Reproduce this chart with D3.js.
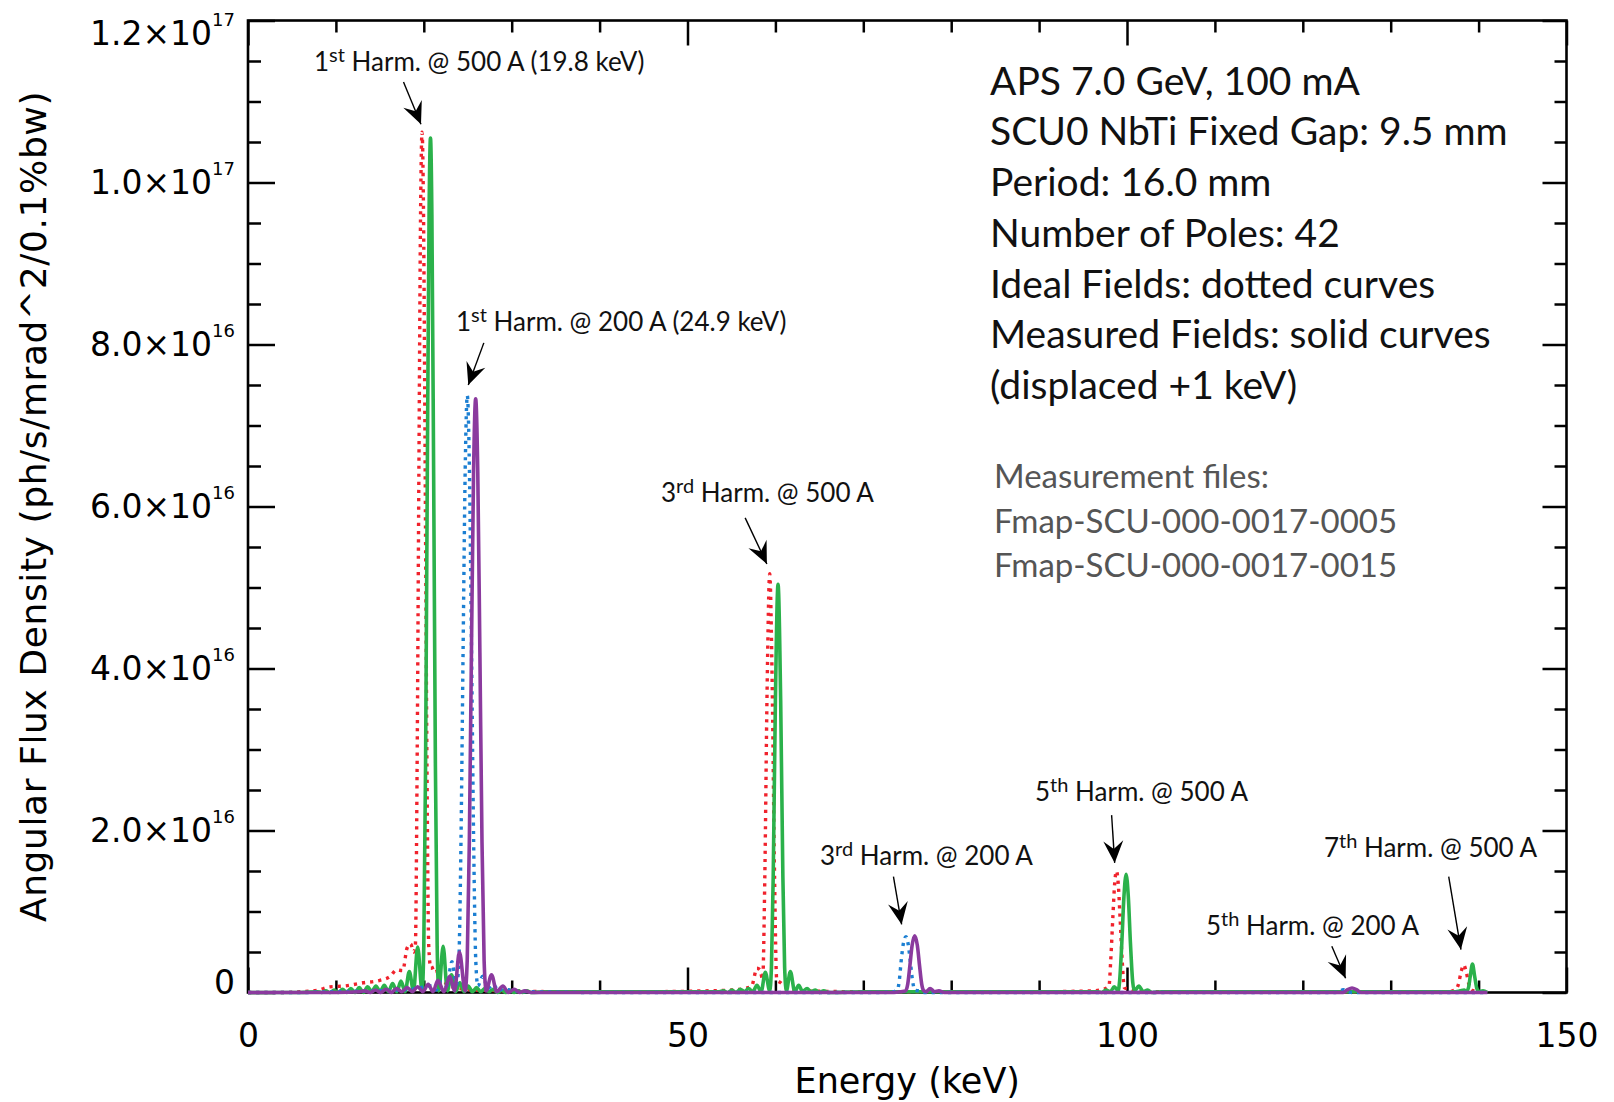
<!DOCTYPE html>
<html>
<head>
<meta charset="utf-8">
<style>
  body { margin: 0; background: #fff; }
  svg { display: block; }
</style>
</head>
<body>
<div id="chart"></div>
<script src="https://d3js.org/d3.v7.min.js"></script>
<script>
// energy in keV, flux density in units of 1e16 ph/s/mrad^2/0.1%bw

// ideal field, 500 A (red dotted)
var ideal500 = [
  [0,0],[4,0],[6,0.01],[8,0.03],[9.3,0.07],[11,0.08],[13.1,0.12],[15,0.15],[16.2,0.2],[16.9,0.28],[17.6,0.27],
  [18.1,0.55],[18.5,0.6],[18.85,0.5],[19.04,0.58],[19.24,2.8],[19.44,6.4],[19.64,9.7],[19.8,10.62],[19.96,9.7],
  [20.16,6.4],[20.36,2.8],[20.56,0.58],[20.8,0.3],[21.3,0.32],[21.8,0.15],[22.4,0.12],[23,0.08],[24,0.05],[26,0.03],
  [30,0.02],[35,0.01],[45,0.01],[52,0.02],[55,0.03],[56.5,0.05],[57.3,0.08],[57.9,0.3],[58.25,0.28],[58.55,0.16],
  [58.8,1.46],[59.05,3.69],[59.35,5.17],[59.65,3.69],[59.9,1.46],[60.15,0.16],[60.6,0.12],[61.3,0.06],[63,0.02],
  [70,0.01],[90,0.01],[96,0.02],[97.3,0.04],[97.95,0.08],[98.15,0.4],[98.4,0.95],[98.6,1.35],[98.8,1.5],[99.0,1.35],
  [99.2,0.95],[99.45,0.4],[99.7,0.06],[100.2,0.04],[101,0.01],[130,0.01],[136.5,0.01],[137.3,0.03],[137.7,0.1],
  [138.0,0.25],[138.3,0.34],[138.6,0.25],[138.9,0.1],[139.2,0.03],[140,0.01],[141,0]
];

// measured field, 500 A, displaced +1 keV (green solid)
var meas500 = [
  [0,0],[6,0],[7.9,0.01],[8.38,0],[8.85,0.02],[9.33,0],[9.8,0.03],[10.28,0],[10.75,0.04],[11.23,0],[11.7,0.05],
  [12.18,0],[12.65,0.06],[13.13,0],[13.6,0.07],[14.08,0.01],[14.55,0.08],[15.03,0.01],[15.5,0.09],[15.98,0.01],
  [16.45,0.11],[16.93,0.01],[17.4,0.14],[17.88,0.01],[18.35,0.26],[18.83,0.02],[19.3,0.56],[19.81,0.02],
  [20.0,0.58],[20.2,2.8],[20.4,6.4],[20.6,9.6],[20.76,10.55],[20.92,9.6],[21.12,6.4],[21.32,2.8],[21.52,0.58],
  [21.71,0.02],[22.2,0.57],[22.68,0.02],[23.15,0.22],[23.63,0.01],[24.1,0.12],[24.58,0.01],[25.05,0.08],[25.53,0.01],
  [26.0,0.06],[26.48,0.01],[26.95,0.05],[27.43,0.01],[27.9,0.04],[28.38,0],[28.85,0.03],[29.33,0],[29.8,0.03],
  [30.28,0],[30.75,0.02],[31.23,0],[31.7,0.02],[32.2,0],[34,0.01],[40,0.01],[48,0.01],[53.6,0.01],[54.1,0.02],
  [54.58,0],[55.05,0.03],[55.53,0],[56.0,0.04],[56.48,0.01],[56.95,0.05],[57.43,0.01],[57.9,0.09],[58.38,0.01],
  [58.85,0.25],[59.35,0.02],[59.55,0.31],[59.75,1.43],[60.0,3.6],[60.3,5.04],[60.6,3.6],[60.85,1.43],[61.05,0.31],
  [61.25,0.02],[61.7,0.26],[62.2,0.01],[62.65,0.09],[63.1,0.01],[63.6,0.05],[64.05,0.01],[64.55,0.03],[65.0,0],
  [65.5,0.02],[66,0],[70,0.01],[90,0.01],[96.6,0.01],[97.1,0],[97.6,0.03],[98.1,0.01],[98.55,0.07],[99.0,0.02],
  [99.15,0.13],[99.4,0.59],[99.65,1.18],[99.9,1.46],[100.15,1.18],[100.4,0.59],[100.65,0.13],[100.85,0.02],
  [101.35,0.08],[101.85,0.01],[102.35,0.03],[102.85,0],[104,0.01],[136,0.01],[137.4,0.01],[137.9,0.02],
  [138.35,0.03],[138.6,0.01],[138.85,0.06],[139.05,0.2],[139.3,0.35],[139.55,0.2],[139.8,0.05],[140.05,0.01],
  [140.5,0.02],[141,0]
];

// ideal field, 200 A (blue dotted)
var ideal200 = [
  [0,0],[6,0],[10,0.01],[14,0.02],[17,0.03],[18.5,0.04],[19.6,0.06],[20.8,0.08],[21.4,0.03],[22.0,0.13],[22.6,0.08],
  [23.2,0.38],[23.6,0.15],[23.75,0.1],[23.99,0.4],[24.23,1.87],[24.47,4.22],[24.71,6.46],[24.95,7.37],[25.19,6.46],
  [25.43,4.22],[25.67,1.87],[25.91,0.4],[26.15,0.08],[26.7,0.2],[27.3,0.05],[27.9,0.1],[28.5,0.02],[29.1,0.05],
  [30,0.02],[32,0.01],[40,0],[72,0],[73.4,0.01],[73.9,0.04],[74.1,0.15],[74.3,0.38],[74.55,0.6],[74.85,0.69],
  [75.1,0.6],[75.35,0.38],[75.6,0.15],[75.85,0.03],[76.4,0.02],[77,0],[123.5,0],[124.1,0.01],[124.6,0.035],
  [125.1,0.01],[125.6,0],[141,0]
];

// measured field, 200 A, displaced +1 keV (purple solid)
var meas200 = [
  [0,0],[10,0],[12.7,0.01],[13.3,0.02],[13.9,0],[14.5,0.03],[15.1,0],[15.7,0.04],[16.3,0],[16.9,0.05],[17.5,0.01],
  [18.1,0.06],[18.7,0.01],[19.3,0.07],[19.9,0.01],[20.5,0.1],[21.05,0.01],[21.6,0.15],[22.3,0.01],[22.95,0.2],
  [23.5,0.02],[24.05,0.5],[24.7,0.02],[24.94,0.4],[25.18,1.86],[25.42,4.2],[25.66,6.42],[25.9,7.33],[26.14,6.42],
  [26.38,4.2],[26.62,1.86],[26.86,0.4],[27.1,0.02],[27.7,0.22],[28.3,0.01],[29.0,0.08],[29.6,0],[30.3,0.04],
  [30.9,0],[31.5,0.02],[32.2,0],[73.5,0],[74.3,0.01],[74.8,0.02],[75.05,0.1],[75.3,0.33],[75.55,0.58],[75.85,0.7],
  [76.15,0.58],[76.4,0.33],[76.65,0.1],[76.9,0.02],[77.15,0.01],[77.6,0.05],[78.1,0.01],[78.6,0.02],[79.2,0],
  [124.6,0],[125.1,0.035],[125.6,0.055],[126.1,0.035],[126.6,0],[141,0]
];

var xTicks = [0, 50, 100, 150];
var yTicks = [0, 2, 4, 6, 8, 10, 12];
var yMant = ["0", "2.0×10", "4.0×10", "6.0×10", "8.0×10", "1.0×10", "1.2×10"];
var yExp = ["", "16", "16", "16", "16", "17", "17"];

var infoLines = ["APS 7.0 GeV, 100 mA", "SCU0 NbTi Fixed Gap: 9.5 mm", "Period: 16.0 mm", "Number of Poles: 42",
  "Ideal Fields: dotted curves", "Measured Fields: solid curves", "(displaced +1 keV)"];
var fileLines = ["Measurement files:", "Fmap-SCU-000-0017-0005", "Fmap-SCU-000-0017-0015"];

// harmonic labels, placed in data coordinates (text baseline, arrow start, arrow tip)
var notes = [
  {n: "1", sup: "st", rest: " Harm. @ 500 A (19.8 keV)", at: [7.51, 11.38], from: [17.69, 11.24], to: [19.68, 10.72]},
  {n: "1", sup: "st", rest: " Harm. @ 200 A (24.9 keV)", at: [23.66, 8.17], from: [26.83, 8.02], to: [25.06, 7.5]},
  {n: "3", sup: "rd", rest: " Harm. @ 500 A", at: [46.98, 6.05], from: [56.56, 5.86], to: [59.03, 5.29]},
  {n: "5", sup: "th", rest: " Harm. @ 500 A", at: [89.53, 2.36], from: [98.25, 2.19], to: [98.6, 1.6]},
  {n: "3", sup: "rd", rest: " Harm. @ 200 A", at: [65.07, 1.58], from: [73.43, 1.43], to: [74.36, 0.84]},
  {n: "7", sup: "th", rest: " Harm. @ 500 A", at: [122.4, 1.67], from: [136.6, 1.43], to: [137.99, 0.53]},
  {n: "5", sup: "th", rest: " Harm. @ 200 A", at: [108.98, 0.71], from: [123.3, 0.57], to: [124.87, 0.175]}
];

var W = 1614, H = 1102;
var margin = {top: 20.5, right: 47.5, bottom: 109.5, left: 248};
var width = W - margin.left - margin.right,
    height = H - margin.top - margin.bottom;

var svg = d3.select("#chart").append("svg")
  .attr("width", W)
  .attr("height", H);

var defs = svg.append("defs");
defs.append("clipPath").attr("id", "plotclip")
  .append("rect").attr("x", 0).attr("y", -5).attr("width", width).attr("height", height + 8);
defs.append("marker")
  .attr("id", "arrowhead")
  .attr("viewBox", "-24 -12 26 24")
  .attr("refX", 0).attr("refY", 0)
  .attr("markerWidth", 26).attr("markerHeight", 24)
  .attr("markerUnits", "userSpaceOnUse")
  .attr("orient", "auto")
  .append("path")
  .attr("d", "M0,0 L-22,-10 L-14,0 L-22,10 Z")
  .attr("fill", "#000");

var g = svg.append("g")
  .attr("transform", "translate(" + margin.left + "," + margin.top + ")");

var x = d3.scaleLinear().domain([0, 150]).range([0, width]);
var y = d3.scaleLinear().domain([0, 12]).range([height, 0]);

var minorX = d3.range(0, 151, 10).filter(function(d) { return d % 50 !== 0; });
var minorY = d3.range(0, 12.01, 0.5).filter(function(d) { return d % 2 !== 0; });

function cleanAxis(sel) {
  sel.select(".domain").remove();
  sel.selectAll(".tick line").attr("stroke", "#000").attr("stroke-width", 2.5);
}

// bottom
g.append("g").attr("transform", "translate(0," + height + ")")
  .call(d3.axisBottom(x).tickValues(xTicks).tickSize(-25).tickPadding(31).tickFormat(d3.format("d")))
  .call(cleanAxis)
  .attr("font-family", "DejaVu Sans, sans-serif").attr("font-size", 33)
  .selectAll("text").attr("fill", "#000");
g.append("g").attr("transform", "translate(0," + height + ")")
  .call(d3.axisBottom(x).tickValues(minorX).tickSize(-12).tickFormat(""))
  .call(cleanAxis);
// top
g.append("g")
  .call(d3.axisTop(x).tickValues(xTicks).tickSize(-25).tickFormat(""))
  .call(cleanAxis);
g.append("g")
  .call(d3.axisTop(x).tickValues(minorX).tickSize(-12).tickFormat(""))
  .call(cleanAxis);
// left
g.append("g")
  .call(d3.axisLeft(y).tickValues(yTicks).tickSize(-27).tickFormat(""))
  .call(cleanAxis);
g.append("g")
  .call(d3.axisLeft(y).tickValues(minorY).tickSize(-13).tickFormat(""))
  .call(cleanAxis);
// right
g.append("g").attr("transform", "translate(" + width + ",0)")
  .call(d3.axisRight(y).tickValues(yTicks).tickSize(-24).tickFormat(""))
  .call(cleanAxis);
g.append("g").attr("transform", "translate(" + width + ",0)")
  .call(d3.axisRight(y).tickValues(minorY).tickSize(-12).tickFormat(""))
  .call(cleanAxis);

g.append("rect")
  .attr("width", width).attr("height", height)
  .attr("fill", "none").attr("stroke", "#000").attr("stroke-width", 2.6);

// y tick labels with powers of ten
var yLab = g.append("g")
  .attr("font-family", "DejaVu Sans, sans-serif")
  .attr("font-size", 33)
  .attr("text-anchor", "end");
yTicks.forEach(function(v, i) {
  var ty = Math.min(Math.max(y(v), 13), height - 10);
  var t = yLab.append("text").attr("x", -13).attr("y", ty).attr("dy", "0.35em");
  t.append("tspan").text(yMant[i]);
  if (yExp[i]) t.append("tspan").attr("font-size", 18).attr("dy", -19).text(yExp[i]);
});

// axis titles
g.append("text")
  .attr("x", width / 2).attr("y", 1093 - margin.top)
  .attr("text-anchor", "middle")
  .attr("font-family", "DejaVu Sans, sans-serif").attr("font-size", 35)
  .text("Energy (keV)");
g.append("text")
  .attr("transform", "translate(" + (46 - margin.left) + "," + (height / 2) + ") rotate(-90)")
  .attr("text-anchor", "middle")
  .attr("font-family", "DejaVu Sans, sans-serif").attr("font-size", 36)
  .attr("letter-spacing", 0.6)
  .text("Angular Flux Density (ph/s/mrad^2/0.1%bw)");

// curves
var line = d3.line()
  .x(function(d) { return x(d[0]); })
  .y(function(d) { return y(d[1]); })
  .curve(d3.curveMonotoneX);

var series = [
  {data: ideal500, color: "#f0222c", dash: "3.2,5", w: 3.4},
  {data: meas500, color: "#2bb14b", dash: null, w: 3.6},
  {data: ideal200, color: "#1c7fd2", dash: "3.2,5", w: 3.4},
  {data: meas200, color: "#8b3a9e", dash: null, w: 3.6}
];

var curves = g.append("g").attr("clip-path", "url(#plotclip)");
curves.selectAll("path")
  .data(series)
  .enter()
  .append("path")
  .attr("d", function(d) { return line(d.data); })
  .attr("fill", "none")
  .attr("stroke", function(d) { return d.color; })
  .attr("stroke-width", function(d) { return d.w; })
  .attr("stroke-dasharray", function(d) { return d.dash; })
  .attr("stroke-linejoin", "round");

// harmonic labels and arrows
var ann = g.append("g");
notes.forEach(function(a) {
  var t = ann.append("text")
    .attr("x", x(a.at[0])).attr("y", y(a.at[1]))
    .attr("font-family", "Lato, 'Open Sans', sans-serif").attr("font-size", 26)
    .attr("fill", "#111");
  t.append("tspan").text(a.n);
  t.append("tspan").attr("font-size", 20).attr("dy", -9).text(a.sup);
  t.append("tspan").attr("dy", 9).text(a.rest);
  ann.append("line")
    .attr("x1", x(a.from[0])).attr("y1", y(a.from[1]))
    .attr("x2", x(a.to[0])).attr("y2", y(a.to[1]))
    .attr("stroke", "#000").attr("stroke-width", 1.4)
    .attr("marker-end", "url(#arrowhead)");
});

// parameter box text
svg.append("g")
  .attr("font-family", "Lato, 'Open Sans', sans-serif").attr("font-size", 39).attr("fill", "#111")
  .selectAll("text").data(infoLines).enter().append("text")
  .attr("x", 990)
  .attr("y", function(d, i) { return 94.7 + i * 50.7; })
  .text(function(d) { return d; });

svg.append("g")
  .attr("font-family", "Lato, 'Open Sans', sans-serif").attr("font-size", 33).attr("fill", "#555")
  .selectAll("text").data(fileLines).enter().append("text")
  .attr("x", 994)
  .attr("y", function(d, i) { return 488 + i * 44.5; })
  .text(function(d) { return d; });
</script>
</body>
</html>
